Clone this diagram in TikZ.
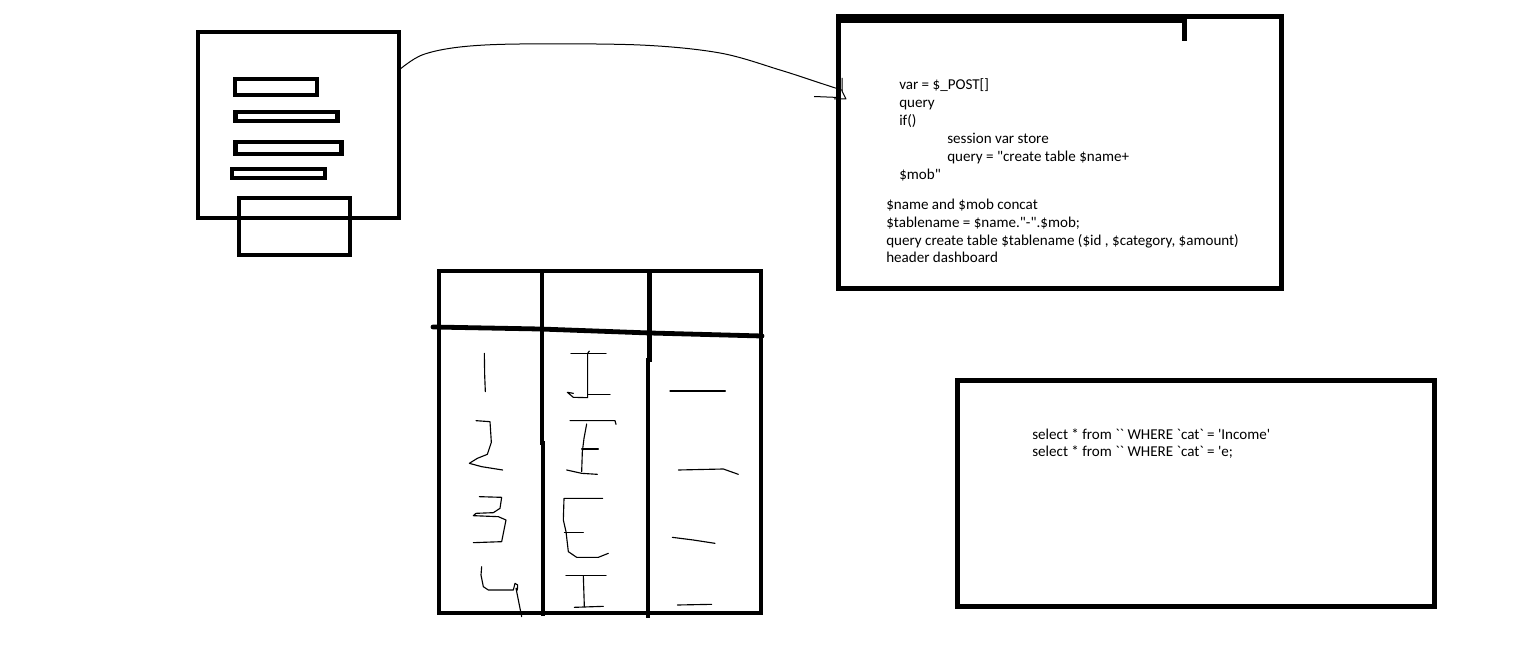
\documentclass[tikz,border=0pt]{standalone}
\usepackage{fontspec}
\setmainfont{Carlito}[Ligatures=TeXOff]
\begin{document}
\begin{tikzpicture}[x=0.75pt,y=-0.75pt,
  box/.style={draw=black,line width=#1,inner sep=0pt,outer sep=0pt},
  boxfill/.style={fill=black,draw=none},
  pen/.style={line width=0.85pt,line join=round,line cap=round},
  thinpen/.style={line width=0.75pt,line join=round},
  txt/.style={anchor=base west,inner sep=0pt,font=\fontsize{11.3}{13.5}\selectfont}]
\useasboundingbox (0,0) rectangle (1526,666);
% form
\node[box=3pt,minimum width=201*0.75pt,minimum height=186*0.75pt] (form) at (298.5,125) {};
\node[box=3.4pt,minimum width=82*0.75pt,minimum height=16*0.75pt] (f1) at (276,87) {};
\node[box=3.4pt,minimum width=102*0.75pt,minimum height=9*0.75pt] (f2) at (286.5,116.5) {};
\node[box=3.4pt,minimum width=106*0.75pt,minimum height=12*0.75pt] (f3) at (288.5,148) {};
\node[box=3.4pt,minimum width=93*0.75pt,minimum height=9*0.75pt] (f4) at (278.5,173.5) {};
\node[box=3pt,minimum width=111*0.75pt,minimum height=57*0.75pt] (btn) at (294.5,226.5) {};
% code box
\node[box=3.75pt,minimum width=443*0.75pt,minimum height=272*0.75pt] (code) at (1060,153) {};
\fill[boxfill] (836,15) rectangle (1186.7,23.3);
\fill[boxfill] (1182,15) rectangle (1186.7,40.7);
% connector
\coordinate (a) at ([yshift=-28.5pt]form.north east);
\coordinate (b) at ([yshift=-55pt,xshift=3pt]code.north west);
\draw[thinpen] plot[smooth,tension=0.55] coordinates {(a) (422,55) (460,47) (520,44) (640,45) (720,53) (780,70) (820,83) (b)};
\draw[thinpen] (842,78) -- (842,91) -- (846,99) -- (834,99);
\draw[thinpen] (814,96.5) -- (839,97.5);
% code text
\node[txt] (c1) at (899,89.5) {var = \$\_POST[]};
\node[txt] (c2) at (899,107.5) {query};
\node[txt] (c3) at (899,125.5) {if()};
\node[txt] (c4) at (947,143.5) {session var store};
\node[txt] (c5) at (947,161.5) {query = "create table \$name+};
\node[txt] (c6) at (899,179.5) {\$mob"};
\node[txt] (c7) at (886,209.5) {\$name and \$mob concat};
\node[txt] (c8) at (886,227.5) {\$tablename = \$name."-".\$mob;};
\node[txt] (c9) at (886,245.5) {query create table \$tablename (\$id , \$category, \$amount)};
\node[txt] (c10) at (886,263) {header dashboard};
% select box
\node[box=3.75pt,minimum width=477*0.75pt,minimum height=225.7*0.75pt] (sel) at (1196,493.2) {};
\node[txt] (s1) at (1032,439) {select * from \symbol{96}\symbol{96} WHERE \symbol{96}cat\symbol{96} = \symbol{39}Income\symbol{39}};
\node[txt] (s2) at (1032,456.7) {select * from \symbol{96}\symbol{96} WHERE \symbol{96}cat\symbol{96} = \symbol{39}e;};
% table
\node[box=3pt,minimum width=322*0.75pt,minimum height=342*0.75pt] (tbl) at (600,442) {};
\draw[line width=3.2pt] (542,271) -- (542,443) -- (543,443) -- (543,616);
\draw[line width=3.4pt] (649.5,271) -- (649.5,360) -- (648,360) -- (648,618);
\draw[line width=3.6pt,line cap=round] (433,327) -- (540,329) -- (650,333) -- (762,336);
% column 1 handwriting
\def\hx#1#2{(430+#1/3,265+#2/3)}
\draw[pen] \hx{163}{265} -- \hx{164}{330} -- \hx{166}{380};
\draw[pen] \hx{138}{467} -- \hx{180}{470} -- \hx{184}{532} -- \hx{172}{568} -- \hx{142}{580} -- \hx{118}{595} -- \hx{155}{605} -- \hx{218}{615};
\draw[pen] \hx{148}{695} -- \hx{215}{697} -- \hx{210}{730} -- \hx{190}{743} -- \hx{138}{745} -- \hx{130}{752} -- \hx{205}{755} -- \hx{228}{765} -- \hx{215}{830} -- \hx{130}{833};
\draw[pen] \hx{155}{905} -- \hx{153}{930} -- \hx{160}{965} -- \hx{175}{975} -- \hx{250}{975} -- \hx{255}{955} -- \hx{263}{960} -- \hx{262}{975} -- \hx{258}{970} -- \hx{275}{1055};
% column 2
\draw[pen] \hx{423}{265} -- \hx{528}{265};
\draw[pen] \hx{478}{258} -- \hx{473}{265} -- \hx{473}{398} -- \hx{430}{397} -- \hx{412}{382} -- \hx{430}{385};
\draw[pen] \hx{473}{388} -- \hx{540}{388};
\draw[pen] \hx{420}{467} -- \hx{555}{467} -- \hx{558}{478};
\draw[pen] \hx{470}{477} -- \hx{462}{520} -- \hx{457}{560} -- \hx{455}{620};
\draw[pen] \hx{455}{552} -- \hx{505}{552};
\draw[pen] \hx{410}{615} -- \hx{455}{625} -- \hx{502}{628};
\draw[pen] \hx{518}{700} -- \hx{402}{700} -- \hx{400}{765} -- \hx{408}{800} -- \hx{415}{860} -- \hx{440}{877} -- \hx{505}{877} -- \hx{535}{865};
\draw[pen] \hx{403}{802} -- \hx{460}{802};
\draw[pen] \hx{408}{932} -- \hx{528}{932};
\draw[pen] \hx{460}{932} -- \hx{463}{1025};
\draw[pen] \hx{433}{1027} -- \hx{520}{1024};
% column 3
\draw[pen] \hx{720}{378} -- \hx{886}{378};
\draw[pen] \hx{745}{615} -- \hx{880}{612} -- \hx{925}{628};
\draw[pen] \hx{727}{817} -- \hx{790}{825} -- \hx{855}{835};
\draw[pen] \hx{742}{1020} -- \hx{845}{1018};
\end{tikzpicture}
\end{document}
